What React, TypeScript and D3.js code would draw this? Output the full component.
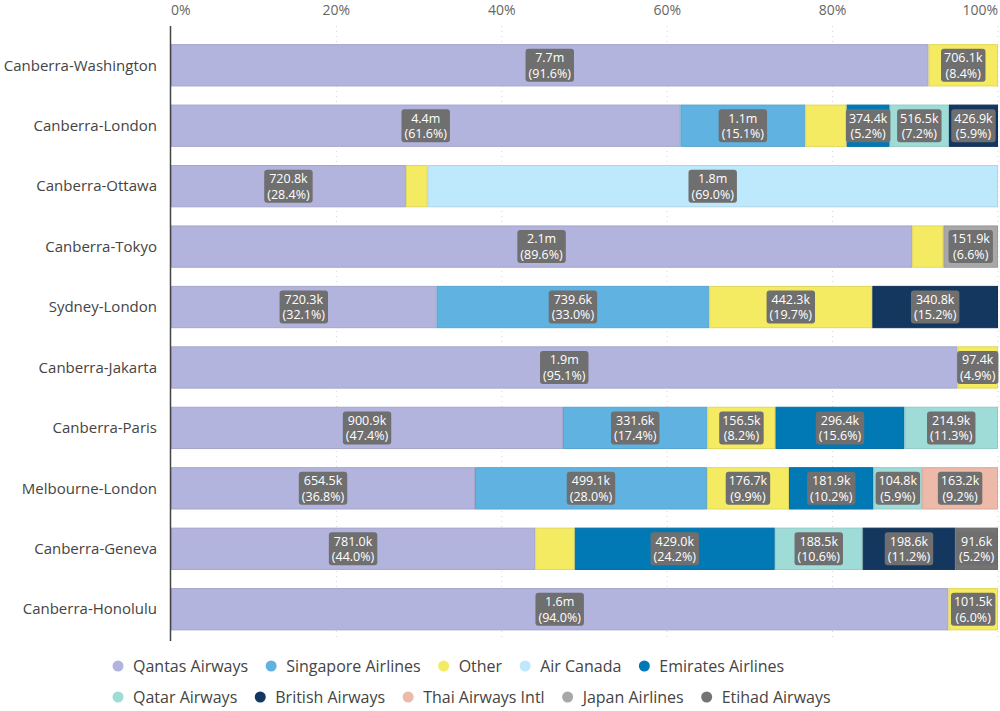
import React, { useEffect, useRef } from 'react';
import * as d3 from 'd3';

// routes, top to bottom
const routes = [
  'Canberra-Washington', 'Canberra-London', 'Canberra-Ottawa', 'Canberra-Tokyo', 'Sydney-London',
  'Canberra-Jakarta', 'Canberra-Paris', 'Melbourne-London', 'Canberra-Geneva', 'Canberra-Honolulu',
];

// passengers per airline, in thousands (same order as routes)
const qantas = [7700, 4435, 720.8, 2063, 720.3, 1890, 900.9, 654.5, 781.0, 1590];
const singapore = [0, 1087, 0, 0, 739.6, 0, 331.6, 499.1, 0, 0];
const other = [706.1, 360, 66, 87, 442.3, 97.4, 156.5, 176.7, 85, 101.5];
const airCanada = [0, 0, 1751, 0, 0, 0, 0, 0, 0, 0];
const emirates = [0, 374.4, 0, 0, 0, 0, 296.4, 181.9, 429.0, 0];
const qatar = [0, 516.5, 0, 0, 0, 0, 214.9, 104.8, 188.5, 0];
const british = [0, 426.9, 0, 0, 340.8, 0, 0, 0, 198.6, 0];
const thai = [0, 0, 0, 0, 0, 0, 0, 163.2, 0, 0];
const japan = [0, 0, 0, 151.9, 0, 0, 0, 0, 0, 0];
const etihad = [0, 0, 0, 0, 0, 0, 0, 0, 91.6, 0];

const airlines = [
  'Qantas Airways', 'Singapore Airlines', 'Other', 'Air Canada', 'Emirates Airlines',
  'Qatar Airways', 'British Airways', 'Thai Airways Intl', 'Japan Airlines', 'Etihad Airways',
];
const seriesValues = [qantas, singapore, other, airCanada, emirates, qatar, british, thai, japan, etihad];
const colors = [
  '#B3B4DE', '#60B3E0', '#F5EB63', '#BEE8FB', '#0079B5',
  '#9FDCD8', '#13375E', '#EDB9A9', '#A8A8A8', '#747474',
];

// segments that carry no data label in the original
const unlabelled = ['Canberra-London|Other', 'Canberra-Ottawa|Other', 'Canberra-Tokyo|Other', 'Canberra-Geneva|Other'];

const tickValues = [0, 0.2, 0.4, 0.6, 0.8, 1];

const FONT = '"Segoe UI", "Open Sans", sans-serif';

const fmt = (v: number) => (v >= 1000 ? (v / 1000).toFixed(1) + 'm' : v.toFixed(1) + 'k');

const App = () => {
  const ref = useRef<SVGSVGElement>(null);

  useEffect(() => {
    if (!ref.current) return;
    const svg = d3.select(ref.current);
    svg.selectAll('*').remove();

    const left = 171;
    const right = 998;

    const table = routes.map((r, i) => {
      const row: any = { route: r };
      airlines.forEach((a, j) => { row[a] = seriesValues[j][i]; });
      return row;
    });
    const stacked = d3.stack<any>().keys(airlines).offset(d3.stackOffsetExpand)(table);

    const x = d3.scaleLinear().domain([0, 1]).range([left, right]);
    const y = d3.scaleBand().domain(routes).range([26, 648.5]).paddingInner(0.3).paddingOuter(0.3);
    const color = d3.scaleOrdinal<string, string>().domain(airlines).range(colors);

    // gridlines
    svg.append('g')
      .selectAll('line')
      .data(tickValues.slice(1))
      .enter()
      .append('line')
      .attr('x1', d => x(d)).attr('x2', d => x(d))
      .attr('y1', 26).attr('y2', 641)
      .attr('stroke', '#d6d6d6')
      .attr('stroke-dasharray', '1,4');

    // top tick labels
    svg.append('g')
      .selectAll('text')
      .data(tickValues)
      .enter()
      .append('text')
      .attr('x', d => x(d))
      .attr('y', 15)
      .attr('text-anchor', d => (d === 0 ? 'start' : d === 1 ? 'end' : 'middle'))
      .attr('font-family', FONT)
      .attr('font-size', 14)
      .attr('fill', '#666')
      .text(d => d3.format('.0%')(d));

    // bars
    const layers = svg.append('g')
      .selectAll('g')
      .data(stacked)
      .enter()
      .append('g')
      .attr('fill', d => color(d.key))
      .attr('stroke', d => d3.color(color(d.key))!.darker(0.25).toString());

    layers.selectAll('rect')
      .data(d => d.map(p => ({ p, key: d.key })))
      .enter()
      .filter(d => d.p[1] - d.p[0] > 0)
      .append('rect')
      .attr('x', d => x(d.p[0]) + 0.5)
      .attr('y', d => (y(d.p.data.route) as number) + 0.5)
      .attr('width', d => Math.max(0, x(d.p[1]) - x(d.p[0]) - 1))
      .attr('height', y.bandwidth() - 1)
      .attr('stroke-width', 1);

    // y axis line and route labels
    svg.append('line')
      .attr('x1', 170.5).attr('x2', 170.5)
      .attr('y1', 26).attr('y2', 641)
      .attr('stroke', '#444').attr('stroke-width', 1.5);

    svg.append('g')
      .selectAll('text')
      .data(routes)
      .enter()
      .append('text')
      .attr('x', 157)
      .attr('y', d => (y(d) as number) + y.bandwidth() / 2)
      .attr('dy', '0.35em')
      .attr('text-anchor', 'end')
      .attr('font-family', FONT)
      .attr('font-size', 15)
      .attr('fill', '#444')
      .text(d => d);

    // data labels
    const labelG = svg.append('g');
    stacked.forEach(layer => {
      layer.forEach(p => {
        const route = p.data.route;
        const v = p.data[layer.key];
        if (!v || unlabelled.includes(route + '|' + layer.key)) return;
        const total = d3.sum(airlines, a => p.data[a]);
        const cx = (x(p[0]) + x(p[1])) / 2;
        const cy = (y(route) as number) + y.bandwidth() / 2;
        const g = labelG.append('g');
        const rect = g.append('rect').attr('fill', '#6F6F6F').attr('rx', 3);
        const t1 = g.append('text')
          .attr('x', cx).attr('y', cy - 7.5).attr('dy', '0.35em')
          .attr('text-anchor', 'middle')
          .attr('font-family', FONT).attr('font-size', 12.5).attr('fill', '#fff')
          .text(fmt(v));
        const t2 = g.append('text')
          .attr('x', cx).attr('y', cy + 8).attr('dy', '0.35em')
          .attr('text-anchor', 'middle')
          .attr('font-family', FONT).attr('font-size', 12.5).attr('fill', '#fff')
          .text('(' + d3.format('.1%')(v / total) + ')');
        const w = Math.max(
          (t1.node() as SVGTextElement).getComputedTextLength(),
          (t2.node() as SVGTextElement).getComputedTextLength(),
        ) + 6;
        rect.attr('x', cx - w / 2).attr('y', cy - 16.5).attr('width', w).attr('height', 33);
      });
    });

    // legend, two rows
    const legend = svg.append('g');
    let lx = 118;
    airlines.forEach((a, i) => {
      if (i === 5) lx = 118;
      const ly = i < 5 ? 666 : 697;
      legend.append('circle').attr('cx', lx).attr('cy', ly).attr('r', 5.5).attr('fill', color(a));
      const t = legend.append('text')
        .attr('x', lx + 15).attr('y', ly).attr('dy', '0.35em')
        .attr('font-family', FONT).attr('font-size', 16).attr('fill', '#444')
        .text(a);
      lx += 15 + (t.node() as SVGTextElement).getComputedTextLength() + 23;
    });
  }, []);

  return (
    <svg
      ref={ref}
      width={1000}
      height={711}
      style={{ position: 'absolute', left: 0, top: 0, background: '#fff' }}
    />
  );
};

export default App;
